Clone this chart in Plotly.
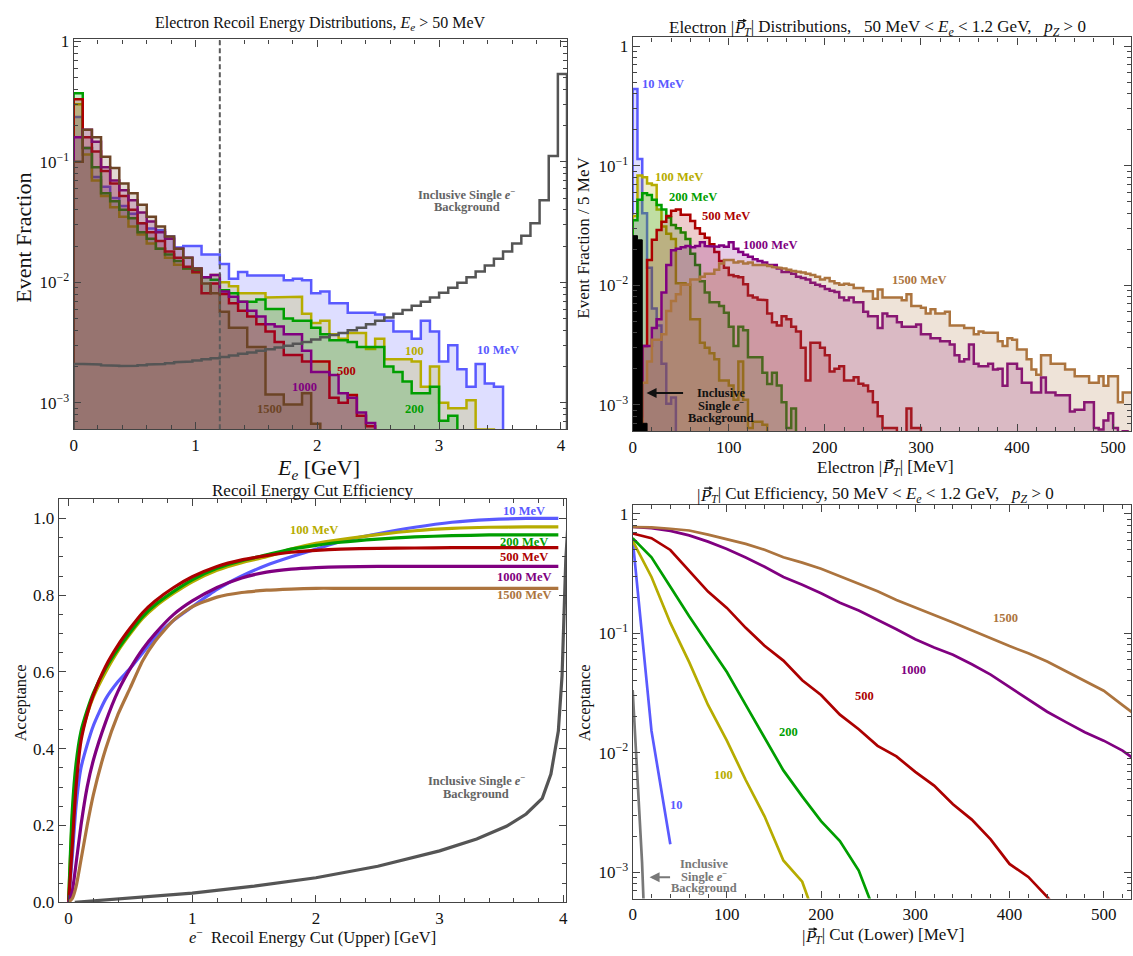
import plotly.graph_objects as go

W, H = 1133, 956
FONT = "Liberation Serif"

# ================= DATA =================
# --- Top-left: electron recoil energy histograms, bins of 0.075 GeV starting at 0 ---
tl_bin_width_gev = 0.075
tl_energy_cut_gev = 1.2
tl_10 = [0.235, 0.13, 0.075, 0.062, 0.05, 0.043, 0.037, 0.031, 0.028, 0.027, 0.024, 0.0195, 0.020, 0.020, 0.017, 0.017,
         0.0142, 0.0107, 0.0122, 0.0114, 0.0114, 0.0114, 0.0114, 0.0104, 0.0107,
         0.0104, 0.0081, 0.0084, 0.0067, 0.0067, 0.0056, 0.0056, 0.0056, 0.0054, 0.0048, 0.0039, 0.0039, 0.0034,
         0.0048, 0.0039, 0.0022, 0.0030, 0.0019, 0.00136, 0.0021, 0.00145, 0.00136]
tl_100 = [0.30, 0.115, 0.07, 0.052, 0.042, 0.035, 0.029, 0.025, 0.021, 0.019, 0.016, 0.014, 0.013, 0.012, 0.011, 0.0115,
          0.010, 0.0093, 0.0081, 0.0081, 0.0081, 0.0075, 0.0075, 0.0076, 0.0076,
          0.0055, 0.0046, 0.0048, 0.0037, 0.0034, 0.0038, 0.0038, 0.0028, 0.0034, 0.0023, 0.0023, 0.0023, 0.0022,
          0.00136, 0.0020, 0.0010, 0.0009, 0.0009, 0.00105, 0.0006, 0.0006, 0.0003]
tl_200 = [0.37, 0.13, 0.09, 0.055, 0.047, 0.04, 0.034, 0.026, 0.023, 0.019, 0.017, 0.015, 0.013, 0.0125, 0.011, 0.0105,
          0.0086, 0.0081, 0.0069, 0.0069, 0.0072, 0.0060, 0.0060, 0.0050, 0.0048,
          0.0048, 0.0042, 0.0037, 0.0033, 0.0033, 0.0032, 0.0029, 0.0029, 0.0029, 0.0020, 0.0018, 0.0015, 0.0012,
          0.0012, 0.00136, 0.00071, 0.00078, 0.0004, 0.0002]
tl_500 = [0.33, 0.16, 0.122, 0.084, 0.066, 0.052, 0.04, 0.031, 0.026, 0.022, 0.018, 0.016, 0.0135, 0.0122, 0.0081, 0.0098,
          0.0080, 0.0067, 0.0058, 0.0052, 0.0045, 0.0039, 0.0032, 0.0025, 0.0025,
          0.0022, 0.0022, 0.0022, 0.0011, 0.0010, 0.00116, 0.00078, 0.00064, 0.0004, 0.0002]
tl_1000 = [0.16, 0.185, 0.147, 0.09, 0.07, 0.058, 0.048, 0.038, 0.032, 0.026, 0.023, 0.019, 0.016, 0.013, 0.011, 0.0115,
           0.0084, 0.0076, 0.0069, 0.0058, 0.0052, 0.0045, 0.0043, 0.0037, 0.0037,
           0.0027, 0.0018, 0.0018, 0.0017, 0.0012, 0.0011, 0.00083, 0.00068, 0.0004, 0.0002]
tl_1500 = [0.10, 0.185, 0.16, 0.11, 0.089, 0.066, 0.055, 0.044, 0.035, 0.029, 0.024, 0.019, 0.016, 0.013, 0.0098, 0.0081,
           0.0057, 0.0042, 0.0042, 0.0029, 0.0029, 0.00117, 0.00117, 0.00097, 0.00097,
           0.0012, 0.00067, 0.0003, 0.0002]
tl_bkg = [0.0021, 0.0021, 0.00208, 0.00205, 0.00203, 0.00202, 0.00203, 0.00205, 0.00208, 0.0021, 0.00213, 0.00217,
          0.0022, 0.00225, 0.0023, 0.00235, 0.0024, 0.00247, 0.00255, 0.00262, 0.0027, 0.00278, 0.00288, 0.00298,
          0.0031, 0.0032, 0.00335, 0.0035, 0.00365, 0.0038, 0.0040, 0.0042, 0.0045, 0.0048, 0.0051, 0.0055, 0.0059,
          0.0064, 0.0069, 0.0075, 0.0082, 0.009, 0.0099, 0.011, 0.0123, 0.0138, 0.0157, 0.018, 0.021, 0.0244,
          0.031, 0.048, 0.112, 0.535]

# --- Top-right: electron pT histograms, 5 MeV bins starting at 0 ---
tr_bin_width_mev = 5
tr_10 = [0.44, 0.114, 0.040, 0.014, 0.0064, 0.0046, 0.0022, 0.00102, 0.00115]
tr_100 = [0.038, 0.083, 0.08, 0.071, 0.069, 0.043, 0.031, 0.027, 0.0244, 0.0104, 0.0104, 0.0101, 0.0052, 0.0052,
          0.0033, 0.003, 0.0027, 0.0024, 0.0016, 0.0016, 0.00145, 0.0011, 0.0023, 0.0011, 0.00064, 0.00072,
          0.00072, 0.00068, 0.0005]
tr_200 = [0.035, 0.052, 0.059, 0.057, 0.052, 0.047, 0.043, 0.037, 0.032, 0.030, 0.0277, 0.0244, 0.0184, 0.0148,
          0.0108, 0.0087, 0.0072, 0.0072, 0.0067, 0.0059, 0.0045, 0.0031, 0.0045, 0.0042, 0.0025, 0.0025, 0.0025,
          0.00185, 0.00149, 0.00185, 0.00145, 0.00105, 0.00064, 0.00093, 0.0004]
tr_500 = [0, 0, 0.0031, 0.0163, 0.024, 0.029, 0.034, 0.038, 0.042, 0.043,
          0.039, 0.039, 0.0345, 0.030, 0.027, 0.025, 0.022, 0.019, 0.016, 0.014,
          0.0122, 0.0119, 0.0117, 0.0102, 0.0082, 0.0079, 0.0076, 0.0075, 0.0058, 0.0049,
          0.0046, 0.0055, 0.0052, 0.0045, 0.0041, 0.0030, 0.0016, 0.0033, 0.0033, 0.0030,
          0.0026, 0.0019, 0.0020, 0.0021, 0.0016, 0.0016, 0.0017, 0.0015, 0.00145, 0.0013,
          0.00105, 0.0008, 0.00064, 0.00064, 0.00064, 0.0003, 0.0003, 0.00093, 0.00064, 0.00064]
tr_1000 = [0, 0.0008, 0.0031, 0.0031, 0.0044, 0.0052, 0.0087, 0.0148, 0.0196, 0.0202,
           0.0208, 0.0213, 0.0208, 0.0213, 0.0229, 0.0213, 0.0213, 0.021, 0.0215, 0.021,
           0.0229, 0.0202, 0.019, 0.018, 0.0173, 0.0165, 0.016, 0.0155, 0.0148, 0.0148,
           0.0138, 0.0129, 0.0129, 0.0125, 0.0118, 0.0115, 0.0112, 0.0105, 0.0101, 0.0098,
           0.0093, 0.0090, 0.0088, 0.0079, 0.0075, 0.0079, 0.0072, 0.0072, 0.0060, 0.0055,
           0.0055, 0.0044, 0.0058, 0.0055, 0.0055, 0.0049, 0.0045, 0.0045, 0.0045, 0.0047,
           0.0039, 0.0039, 0.0036, 0.0036, 0.0034, 0.0034, 0.0032, 0.0026, 0.0023, 0.0024,
           0.0032, 0.0022, 0.0021, 0.0021, 0.0022, 0.00197, 0.002, 0.00144, 0.0022, 0.0022,
           0.002, 0.00153, 0.00153, 0.00127, 0.00127, 0.00169, 0.00127, 0.00127, 0.0012, 0.0012,
           0.0012, 0.00088, 0.00091, 0.00091, 0.00105, 0.00105, 0.00064, 0.00062, 0.00074, 0.00085,
           0.00064, 0.0005, 0.0006, 0.0005]
tr_1500 = [0, 0, 0.00153, 0.0023, 0.0035, 0.0035, 0.0039, 0.0061, 0.0074, 0.0084,
           0.0101, 0.0101, 0.0112, 0.0112, 0.0118, 0.0125, 0.0125, 0.0135, 0.0152, 0.0163,
           0.0163, 0.0155, 0.0158, 0.0152, 0.0155, 0.0148, 0.015, 0.0148, 0.0145, 0.0142,
           0.014, 0.0138, 0.0135, 0.0132, 0.013, 0.0128, 0.0125, 0.0122, 0.0118, 0.0112,
           0.0115, 0.0108, 0.0104, 0.0101, 0.0103, 0.0101, 0.0095, 0.0095, 0.0089, 0.0089,
           0.0077, 0.0092, 0.0079, 0.0079, 0.0079, 0.0079, 0.0075, 0.0084, 0.0067, 0.0067,
           0.0065, 0.0058, 0.0063, 0.0058, 0.0058, 0.006, 0.0046, 0.0046, 0.0046, 0.0044,
           0.0044, 0.0039, 0.0041, 0.004, 0.004, 0.004, 0.0034, 0.0031, 0.0036, 0.0035,
           0.0029, 0.0029, 0.0024, 0.00197, 0.00178, 0.0026, 0.0026, 0.0022, 0.0022, 0.0022,
           0.00197, 0.00197, 0.00173, 0.00173, 0.00173, 0.00153, 0.00153, 0.00173, 0.00144, 0.00173,
           0.00173, 0.00105, 0.00127, 0.00127]
tr_bkg = [0.026, 0.024, 0.0007]

# --- Bottom-left: acceptance vs upper recoil-energy cut ---
bl_cut_gev = [0, 0.03, 0.06, 0.1, 0.15, 0.2, 0.3, 0.4, 0.5, 0.6, 0.7, 0.85, 1.0, 1.2, 1.4, 1.6, 1.8, 2.0, 2.2,
              2.5, 2.8, 3.1, 3.4, 3.7, 3.96]
bl_10 = [0, 0.12, 0.25, 0.35, 0.41, 0.46, 0.53, 0.575, 0.61, 0.65, 0.69, 0.735, 0.77, 0.815, 0.85, 0.878, 0.9,
         0.92, 0.94, 0.96, 0.977, 0.99, 0.997, 1.0, 1.0]
bl_100 = [0, 0.22, 0.34, 0.43, 0.49, 0.535, 0.6, 0.655, 0.7, 0.74, 0.77, 0.805, 0.835, 0.865, 0.885, 0.9, 0.92,
          0.935, 0.945, 0.958, 0.968, 0.974, 0.977, 0.978, 0.978]
bl_200 = [0, 0.24, 0.36, 0.445, 0.5, 0.545, 0.61, 0.66, 0.705, 0.745, 0.775, 0.81, 0.84, 0.87, 0.89, 0.905, 0.92,
          0.93, 0.938, 0.946, 0.952, 0.955, 0.957, 0.957, 0.957]
bl_500 = [0, 0.15, 0.3, 0.42, 0.49, 0.54, 0.615, 0.67, 0.715, 0.755, 0.785, 0.82, 0.848, 0.875, 0.892, 0.903,
          0.912, 0.917, 0.92, 0.922, 0.923, 0.924, 0.924, 0.924, 0.924]
bl_1000 = [0, 0.03, 0.1, 0.2, 0.3, 0.37, 0.47, 0.55, 0.61, 0.66, 0.7, 0.75, 0.785, 0.82, 0.845, 0.86, 0.868,
           0.872, 0.874, 0.875, 0.875, 0.875, 0.875, 0.875, 0.875]
bl_1500 = [0, 0.01, 0.04, 0.11, 0.2, 0.28, 0.4, 0.49, 0.56, 0.63, 0.68, 0.735, 0.77, 0.795, 0.807, 0.813, 0.816,
           0.818, 0.818, 0.818, 0.818, 0.818, 0.818, 0.818, 0.818]
bl_bkg_cut_gev = [0.05, 0.5, 1.0, 1.5, 2.0, 2.5, 3.0, 3.3, 3.54, 3.7, 3.83, 3.9, 3.96, 3.99, 4.02, 4.04]
bl_bkg = [0, 0.011, 0.024, 0.042, 0.064, 0.094, 0.134, 0.165, 0.198, 0.23, 0.271, 0.334, 0.446, 0.59, 0.89, 1.0]

# --- Bottom-right: acceptance vs lower pT cut ---
br_cut_mev = [0, 20, 40, 60, 80, 100, 120, 140, 160, 180, 200, 220, 240, 260, 280, 300, 320, 340, 360, 380,
              400, 420, 440, 460, 480, 500, 520, 540]
br_1500 = [0.776, 0.77, 0.75, 0.725, 0.67, 0.614, 0.56, 0.5, 0.433, 0.39, 0.347, 0.3, 0.26, 0.225, 0.19, 0.163,
           0.142, 0.123, 0.106, 0.09, 0.078, 0.068, 0.058, 0.048, 0.04, 0.033, 0.025, 0.019]
br_1000 = [0.776, 0.76, 0.72, 0.66, 0.585, 0.508, 0.43, 0.36, 0.296, 0.255, 0.216, 0.18, 0.155, 0.13, 0.108,
           0.089, 0.076, 0.066, 0.055, 0.045, 0.0356, 0.028, 0.022, 0.018, 0.0148, 0.0126, 0.0104, 0.008]
br_500 = [0.684, 0.625, 0.498, 0.336, 0.223, 0.163, 0.111, 0.0786, 0.059, 0.0404, 0.0304, 0.0208, 0.0157,
          0.0114, 0.0093, 0.0069, 0.0053, 0.0037, 0.00275, 0.00188, 0.00117, 0.00091, 0.00062, 0.0004]
br_200 = [0.625, 0.433, 0.245, 0.139, 0.081, 0.0473, 0.0251, 0.0134, 0.0071, 0.0043, 0.00267, 0.00182, 0.00103,
          0.0004]
br_100 = [0.594, 0.296, 0.122, 0.0573, 0.0251, 0.0126, 0.0059, 0.00293, 0.00125, 0.00083, 0.0003]
br_10 = [0.61, 0.0152, 0.00171]
br_bkg_cut_mev = [0, 10, 20]
br_bkg = [0.0335, 0.0012, 0.00001]

# ================= STYLE =================
C_BLUE = "rgb(90,90,255)"
C_OLIVE = "rgb(182,172,0)"
C_GREEN = "rgb(0,158,0)"
C_RED = "rgb(172,0,0)"
C_PURPLE = "rgb(128,0,128)"
C_BROWN_DARK = "rgb(108,68,38)"
C_BROWN = "rgb(172,116,62)"
C_GRAY = "rgb(85,85,85)"
C_GRAY_L = "rgb(120,120,120)"


def rgba(c, a):
    return c.replace("rgb(", "rgba(").replace(")", ",%g)" % a)


def px(x):
    return x / W


def py(y):
    return 1 - y / H


FLOOR = 1e-7


def step_poly(width, values):
    xs, ys = [0.0], [FLOOR]
    for i, v in enumerate(values):
        v = v if v > 0 else FLOOR
        xs += [i * width, (i + 1) * width]
        ys += [v, v]
    xs.append(len(values) * width)
    ys.append(FLOOR)
    return xs, ys


fig = go.Figure()


def add_hist(width, values, color, xa, ya, lw=2.5, fill_alpha=0.2, fillcolor=None):
    xs, ys = step_poly(width, values)
    fig.add_trace(go.Scatter(x=xs, y=ys, mode="lines", fill="toself",
                             fillcolor=fillcolor if fillcolor else rgba(color, fill_alpha),
                             line=dict(color=color, width=lw), xaxis=xa, yaxis=ya,
                             hoverinfo="skip", showlegend=False))


# --- Top-left ---
for vals, col in [(tl_10, C_BLUE), (tl_100, C_OLIVE), (tl_200, C_GREEN), (tl_500, C_RED),
                  (tl_1000, C_PURPLE), (tl_1500, C_BROWN_DARK)]:
    add_hist(tl_bin_width_gev, vals, col, "x", "y")
xs, ys = step_poly(tl_bin_width_gev, tl_bkg)
fig.add_trace(go.Scatter(x=xs, y=ys, mode="lines", line=dict(color=C_GRAY, width=2.5),
                         xaxis="x", yaxis="y", hoverinfo="skip", showlegend=False))

# --- Top-right ---
for vals, col in [(tr_10, C_BLUE), (tr_100, C_OLIVE), (tr_200, C_GREEN), (tr_500, C_RED),
                  (tr_1000, C_PURPLE), (tr_1500, C_BROWN)]:
    add_hist(tr_bin_width_mev, vals, col, "x2", "y2")
add_hist(tr_bin_width_mev, tr_bkg, "rgb(0,0,0)", "x2", "y2", lw=1, fillcolor="rgb(0,0,0)")

# --- Bottom-left ---
for vals, col in [(bl_10, C_BLUE), (bl_100, C_OLIVE), (bl_200, C_GREEN), (bl_500, C_RED),
                  (bl_1000, C_PURPLE), (bl_1500, C_BROWN)]:
    fig.add_trace(go.Scatter(x=bl_cut_gev, y=vals, mode="lines", line=dict(color=col, width=3.2, shape="spline",
                                                                          smoothing=0.6),
                             xaxis="x3", yaxis="y3", hoverinfo="skip", showlegend=False))
fig.add_trace(go.Scatter(x=bl_bkg_cut_gev, y=bl_bkg, mode="lines", line=dict(color=C_GRAY, width=3.2),
                         xaxis="x3", yaxis="y3", hoverinfo="skip", showlegend=False))

# --- Bottom-right ---
for vals, col in [(br_10, C_BLUE), (br_100, C_OLIVE), (br_200, C_GREEN), (br_500, C_RED),
                  (br_1000, C_PURPLE), (br_1500, C_BROWN)]:
    fig.add_trace(go.Scatter(x=br_cut_mev[:len(vals)], y=vals, mode="lines", line=dict(color=col, width=2.7),
                             xaxis="x4", yaxis="y4", hoverinfo="skip", showlegend=False))
fig.add_trace(go.Scatter(x=br_bkg_cut_mev, y=br_bkg, mode="lines", line=dict(color=C_GRAY_L, width=2.7),
                         xaxis="x4", yaxis="y4", hoverinfo="skip", showlegend=False))

# ================= AXES =================
TICKFONT = dict(family=FONT, size=17, color="#111")
LINEC = "#444"


def log_minor(lo, hi):
    vals = []
    for e in range(lo, hi + 1):
        for k in range(2, 10):
            vals.append(k * 10 ** e)
    return vals


def axis_common():
    return dict(showgrid=False, zeroline=False, showline=True, linecolor=LINEC, linewidth=1.2,
                mirror="ticks", ticks="inside", ticklen=7, tickwidth=1, tickcolor=LINEC,
                tickfont=TICKFONT)


log_tickvals = [1e-3, 1e-2, 1e-1, 1]
log_ticktext = ["10<sup>\u22123</sup>", "10<sup>\u22122</sup>", "10<sup>\u22121</sup>", "1"]

fig.update_layout(
    xaxis=dict(domain=[px(70), px(566)], range=[0, 4.05], anchor="y",
               tickvals=[0, 1, 2, 3, 4], ticktext=["0", "1", "2", "3", "4"],
               minor=dict(tickvals=[i * 0.2 for i in range(21)], ticks="inside", ticklen=4, tickcolor=LINEC),
               **axis_common()),
    yaxis=dict(domain=[py(430), py(33)], type="log", range=[-3.22, 0.016], anchor="x",
               tickvals=log_tickvals, ticktext=log_ticktext,
               minor=dict(tickvals=log_minor(-4, 0), ticks="inside", ticklen=4, tickcolor=LINEC),
               **axis_common()),
    xaxis2=dict(domain=[px(632), 1.0], range=[0, 518.6], anchor="y2",
                tickvals=[0, 100, 200, 300, 400, 500],
                minor=dict(tickvals=list(range(0, 520, 20)), ticks="inside", ticklen=4, tickcolor=LINEC),
                **axis_common()),
    yaxis2=dict(domain=[py(432), py(31)], type="log", range=[-3.222, 0.074], anchor="x2",
                tickvals=log_tickvals, ticktext=log_ticktext,
                minor=dict(tickvals=log_minor(-4, 0), ticks="inside", ticklen=4, tickcolor=LINEC),
                **axis_common()),
    xaxis3=dict(domain=[px(55), px(565)], range=[-0.08, 4.022], anchor="y3",
                tickvals=[0, 1, 2, 3, 4], ticktext=["0", "1", "2", "3", "4"],
                minor=dict(tickvals=[i * 0.2 for i in range(21)], ticks="inside", ticklen=4, tickcolor=LINEC),
                **axis_common()),
    yaxis3=dict(domain=[py(911.5), py(501)], range=[0, 1.0504], anchor="x3",
                tickvals=[0, 0.2, 0.4, 0.6, 0.8, 1.0], ticktext=["0.0", "0.2", "0.4", "0.6", "0.8", "1.0"],
                minor=dict(tickvals=[i * 0.05 for i in range(22)], ticks="inside", ticklen=4, tickcolor=LINEC),
                **axis_common()),
    xaxis4=dict(domain=[px(632), 1.0], range=[0, 529], anchor="y4",
                tickvals=[0, 100, 200, 300, 400, 500],
                minor=dict(tickvals=list(range(0, 540, 20)), ticks="inside", ticklen=4, tickcolor=LINEC),
                **axis_common()),
    yaxis4=dict(domain=[py(907.7), py(506.7)], type="log", range=[-3.222, 0.0765], anchor="x4",
                tickvals=log_tickvals, ticktext=log_ticktext,
                minor=dict(tickvals=log_minor(-4, 0), ticks="inside", ticklen=4, tickcolor=LINEC),
                **axis_common()),
)

# dashed energy-cut line in top-left panel
fig.add_shape(type="line", x0=tl_energy_cut_gev, x1=tl_energy_cut_gev, y0=0, y1=1,
              xref="x", yref="y domain", line=dict(color="rgb(90,90,90)", width=2, dash="5px,3px"))

# ================= TEXT =================
anns = []


def text(t, x, y, size, color="#111", angle=0, xanchor="center"):
    anns.append(dict(text=t, x=px(x), y=py(y), xref="paper", yref="paper", showarrow=False,
                     xanchor=xanchor, yanchor="middle", textangle=angle, borderpad=0, borderwidth=0,
                     font=dict(family=FONT, size=size, color=color)))


def label(t, x, y, color, size=12.5):
    text("<b>" + t + "</b>", x, y, size, color)


def label_lines(lines, x, y0, dy, color, size=12.5):
    for i, t in enumerate(lines):
        label(t, x, y0 + i * dy, color, size)


def arrow(x_head, y_head, x_tail, y_tail, color, width=2, size=1.0):
    anns.append(dict(text="", x=px(x_head), y=py(y_head), xref="paper", yref="paper",
                     ax=x_tail - x_head, ay=y_tail - y_head, showarrow=True,
                     arrowhead=2, arrowsize=size, arrowwidth=width, arrowcolor=color, standoff=0))


def vec_p_text(left, right, x_p, y, size):
    """Text with a vector-arrow P: left part ends at x_p, italic P, then the rest."""
    pw = 0.611 * size
    text(left, x_p, y, size, xanchor="right")
    text("<i>P</i>", x_p, y, size, xanchor="left")
    text(right, x_p + pw, y, size, xanchor="left")
    ya = y - 0.42 * size
    arrow(x_p + pw + 2.5, ya, x_p + 2.5, ya, "#111", width=1.1, size=0.7)


EE = "<i>E<sub>e</sub></i>"
PZ = "<i>p<sub>Z</sub></i>"
EM = "<i>e</i><sup>\u2212</sup>"
TSUB = "<sub><i>T</i></sub>"

# titles
text("Electron Recoil Energy Distributions, " + EE + " &gt; 50 MeV", 318, 17, 16)
vec_p_text("Electron |", TSUB + "| Distributions, &nbsp;&nbsp;50 MeV &lt; " + EE + " &lt; 1.2 GeV, &nbsp;&nbsp;"
           + PZ + " &gt; 0", 734, 21, 17)
text("Recoil Energy Cut Efficiency", 310, 492, 17)
vec_p_text("|", TSUB + "| Cut Efficiency, 50 MeV &lt; " + EE + " &lt; 1.2 GeV, &nbsp;&nbsp;" + PZ + " &gt; 0",
           700, 497, 17)

# axis titles
text(EE + " [GeV]", 316, 470, 22)
text("Event Fraction", 20, 235, 22, angle=-90)
vec_p_text("Electron |", TSUB + "| [MeV]", 883, 469, 17)
text("Event Fraction / 5 MeV", 583, 235, 17, angle=-90)
text(EM + " &nbsp;Recoil Energy Cut (Upper) [GeV]", 310, 946, 16.5)
text("Acceptance", 17, 708, 16.5, angle=-90)
vec_p_text("|", TSUB + "| Cut (Lower) [MeV]", 805, 946, 17)
text("Acceptance", 584, 708, 16.5, angle=-90)

ESUP = "<i>e</i><sup>\u2212</sup>"

# top-left labels
label_lines(["Inclusive Single " + ESUP, "Background"], 465, 190, 14, "rgb(100,100,100)")
label("10 MeV", 497, 349, C_BLUE)
label("100", 413, 350, C_OLIVE)
label("500", 344, 371, C_RED)
label("200", 413, 409, C_GREEN)
label("1000", 302, 387, C_PURPLE)
label("1500", 267, 409, C_BROWN_DARK)

# top-right labels
label("10 MeV", 663, 78, C_BLUE)
label("100 MeV", 679, 173, C_OLIVE)
label("200 MeV", 693, 193, C_GREEN)
label("500 MeV", 726, 213, C_RED)
label("1000 MeV", 771, 242, C_PURPLE)
label("1500 MeV", 920, 278, C_BROWN)
label_lines(["Inclusive", "Single " + ESUP, "Background"], 721, 393, 12.5, "#111")
arrow(646, 393, 684, 393, "#111")

# bottom-left labels
label("10 MeV", 523, 513, C_BLUE)
label("100 MeV", 312, 532, C_OLIVE)
label("200 MeV", 523, 545, C_GREEN)
label("500 MeV", 523, 560, C_RED)
label("1000 MeV", 523, 580, C_PURPLE)
label("1500 MeV", 523, 599, C_BROWN)
label_lines(["Inclusive Single " + ESUP, "Background"], 475, 787, 14, "rgb(100,100,100)")

# bottom-right labels
label("1500", 1007, 622, C_BROWN)
label("1000", 914, 675, C_PURPLE)
label("500", 865, 701, C_RED)
label("200", 789, 738, C_GREEN)
label("100", 723, 782, C_OLIVE)
label("10", 676, 812, C_BLUE)
label_lines(["Inclusive", "Single " + ESUP, "Background"], 704, 873, 12, "rgb(120,120,120)")
arrow(649, 886, 671, 886, "rgb(120,120,120)")

fig.update_layout(annotations=anns, width=W, height=H, margin=dict(l=0, r=0, t=0, b=0),
                  paper_bgcolor="white", plot_bgcolor="white", showlegend=False, hovermode=False,
                  font=dict(family=FONT))

fig.write_html("out.html")
